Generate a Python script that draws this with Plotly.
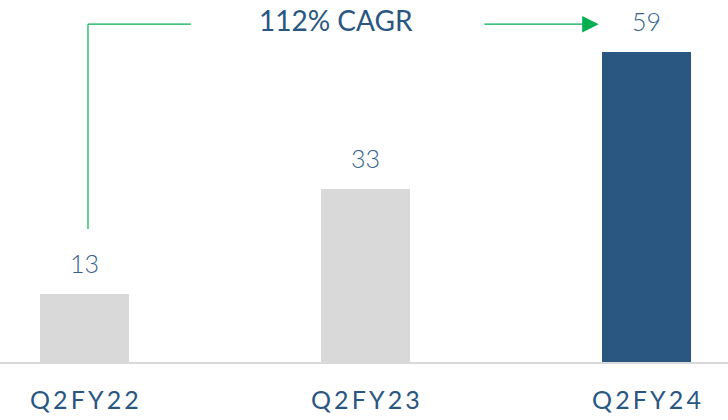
import plotly.graph_objects as go

categories = ["Q2FY22", "Q2FY23", "Q2FY24"]
values = [13, 33, 59]
bar_colors = ["#D9D9D9", "#D9D9D9", "#2A5782"]
cagr_label = "112% CAGR"

TEXT = "#2A5782"
VALUE_TEXT = "#33628F"
GREEN = "#00B050"
FONT = "Lato"

def spaced(s):
    return "\u2009".join(s)

xs = list(range(len(categories)))

fig = go.Figure()
fig.add_trace(go.Bar(
    x=xs, y=values, marker=dict(color=bar_colors, line=dict(width=0)),
    width=0.317, hoverinfo="skip", showlegend=False,
))

# value labels above bars
for xi, v in zip(xs, values):
    fig.add_annotation(x=xi, y=v, text=str(v), showarrow=False, xref="x", yref="y",
                       yanchor="bottom", yshift=14,
                       font=dict(family=FONT, size=25, color=VALUE_TEXT, weight=300))

# CAGR connector
fig.add_shape(type="line", xref="x", yref="y", x0=0.013, x1=0.013, y0=25.3, y1=64.3,
              line=dict(color=GREEN, width=1.2))
fig.add_shape(type="line", xref="x", yref="y", x0=0.013, x1=0.379, y0=64.3, y1=64.3,
              line=dict(color=GREEN, width=1.2))
fig.add_annotation(x=1.83, y=64.3, ax=1.418, ay=64.3, axref="x", ayref="y",
                   xref="x", yref="y", showarrow=True, arrowhead=2, arrowsize=3.0,
                   arrowwidth=1.1, arrowcolor=GREEN, text="", standoff=0)
fig.add_annotation(x=0.897, y=65.1, text=cagr_label, showarrow=False, xref="x", yref="y",
                   font=dict(family=FONT, size=28, color=TEXT))

fig.update_layout(
    width=728, height=420,
    margin=dict(l=0, r=0, t=0, b=58),
    plot_bgcolor="white", paper_bgcolor="white",
    xaxis=dict(range=[-0.3, 2.29], tickvals=xs, ticktext=[spaced(c) for c in categories],
               showgrid=False, zeroline=False, showline=True, linecolor="#D9D9D9", linewidth=2,
               ticks="", tickfont=dict(family=FONT, size=25, color=TEXT), ticklabelstandoff=15),
    yaxis=dict(range=[0, 68.9], visible=False, showgrid=False, zeroline=False),
    bargap=0,
)

fig.write_html("out.html", config={"displayModeBar": False, "staticPlot": True},
               post_script="document.body.style.margin='0';document.body.style.overflow='hidden';")
